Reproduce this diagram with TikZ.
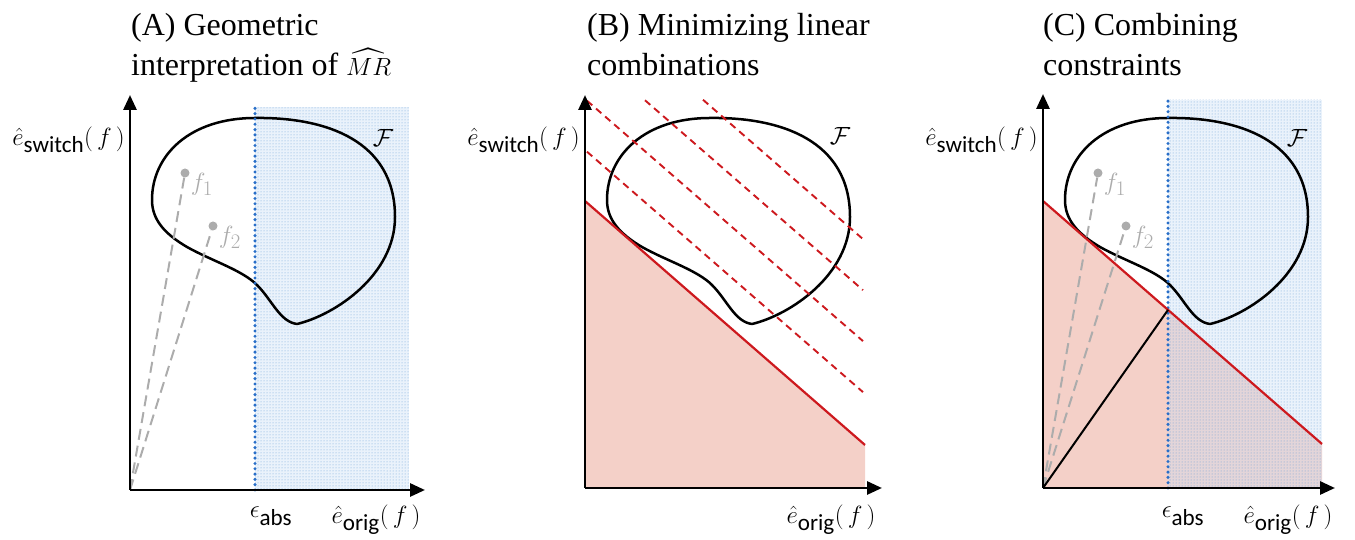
\documentclass[tikz,border=0pt]{standalone}
\usepackage{amsmath,amssymb}
\usepackage{fontspec}
\setmainfont{Liberation Serif}
\setsansfont{Carlito}
\usepackage{tikz}
\usetikzlibrary{arrows.meta, positioning, patterns}
\definecolor{cutblue}{RGB}{40,110,200}
\definecolor{dotblue}{RGB}{110,160,215}
\definecolor{paleblue}{RGB}{200,222,245}
\definecolor{rosefill}{RGB}{244,208,200}
\definecolor{boundred}{RGB}{205,25,30}
\definecolor{pointgray}{RGB}{172,172,172}

\begin{document}
\begin{tikzpicture}[
    x=1pt, y=1pt,
    axis/.style={line width=2.8pt, -{Triangle[length=15pt, width=13pt]}},
    cutline/.style={line width=3.4pt, cutblue, line cap=round, dash pattern=on 0pt off 5.3pt},
    region/.style={fill=paleblue, fill opacity=0.38},
    dotted region/.style={pattern=dots, pattern color=dotblue},
    bound/.style={line width=2.2pt, boundred},
    level/.style={line width=1.9pt, boundred, dash pattern=on 7pt off 5pt},
    ray/.style={line width=2pt, pointgray, dash pattern=on 11pt off 6pt},
    fpoint/.style={circle, fill=pointgray, inner sep=0pt, minimum size=9pt},
    ftext/.style={text=pointgray, inner sep=0pt, font=\fontsize{31}{31}\selectfont},
    lbl/.style={inner sep=0pt, font=\sffamily\fontsize{33}{33}\selectfont},
    setlbl/.style={inner sep=0pt, font=\fontsize{29}{29}\selectfont},
    title/.style={inner sep=0pt, align=left, font=\fontsize{32}{40}\selectfont},
    feasible/.pic={
        \draw[line width=2.5pt, black, line join=round]
            (125,372) .. controls (60,372) and (22,335) .. (22,290)
            .. controls (22,270) and (35,256) .. (57,243)
            .. controls (82,229) and (112,220) .. (127,205)
            .. controls (142,190) and (150,168) .. (167,166)
            .. controls (205,175) and (265,215) .. (265,273)
            .. controls (265,350) and (195,373) .. cycle;
    },
]
    \useasboundingbox (0,0) rectangle (1355,540);

    % Titles
    \node[title, anchor=north west] (titleA) at (131,527) {(A) Geometric\\interpretation of $\widehat{MR}$};
    \node[title, anchor=north west] (titleB) at (587,527) {(B) Minimizing linear\\combinations};
    \node[title, anchor=north west] (titleC) at (1043,527) {(C) Combining\\constraints};

    % (A) feasible set and epsilon cut
    \begin{scope}[shift={(130,50)}]
        \coordinate (oA) at (0,0);
        \coordinate (ytipA) at (0,395);
        \coordinate (xtipA) at (295,0);
        \fill[region] (125,0) rectangle (279,383);
        \fill[dotted region] (125,0) rectangle (279,383);
        \pic at (0,0) {feasible};
        \draw[cutline] (125,0) -- (125,383);
        \node[fpoint] (f1A) at (55,317) {};
        \node[fpoint] (f2A) at (83,264) {};
        \draw[ray] (oA) -- (f1A);
        \draw[ray] (oA) -- (f2A);
        \node[ftext, right=1pt of f1A, yshift=-11pt] (f1labA) {$f_1$};
        \node[ftext, right=1pt of f2A, yshift=-11pt] (f2labA) {$f_2$};
        \draw[axis] (oA) -- (ytipA);
        \draw[axis] (oA) -- (xtipA);
        \node[lbl, anchor=east] (ylabA) at (-5,350) {$\hat{e}_{\text{switch}}(\,f\,)$};
        \node[lbl] (epsA) at (141,-26) {$\epsilon_{\text{abs}}$};
        \node[lbl] (xlabA) at (246,-30) {$\hat{e}_{\text{orig}}(\,f\,)$};
        \node[setlbl] (setA) at (253,352) {$\mathcal{F}$};
    \end{scope}

    % (B) level lines of a linear combination
    \begin{scope}[shift={(585,52)}]
        \coordinate (oB) at (0,0);
        \coordinate (ytipB) at (0,393);
        \coordinate (xtipB) at (297,0);
        \coordinate (lineLB) at (0,287);
        \coordinate (lineRB) at (280,43);
        \fill[rosefill] (oB) -- (lineLB) -- (lineRB) -- (280,0) -- cycle;
        \pic at (0,-2) {feasible};
        \foreach \c/\s in {338/2, 389/2, 440/60, 491/118}
            \draw[level] (\s,{\c-0.871*\s}) -- (278,{\c-0.871*278});
        \draw[bound] (lineLB) -- (lineRB);
        \draw[axis] (oB) -- (ytipB);
        \draw[axis] (oB) -- (xtipB);
        \node[lbl, anchor=east] (ylabB) at (-5,348) {$\hat{e}_{\text{switch}}(\,f\,)$};
        \node[lbl] (xlabB) at (246,-32) {$\hat{e}_{\text{orig}}(\,f\,)$};
        \node[setlbl] (setB) at (255,352) {$\mathcal{F}$};
    \end{scope}

    % (C) both constraints together
    \begin{scope}[shift={(1043,52)}]
        \coordinate (oC) at (0,0);
        \coordinate (ytipC) at (0,394);
        \coordinate (xtipC) at (292,0);
        \coordinate (lineLC) at (0,287);
        \coordinate (lineRC) at (279,44);
        \coordinate (cornerC) at (125,178.1);
        \fill[rosefill] (oC) -- (lineLC) -- (lineRC) -- (279,0) -- cycle;
        \fill[region] (125,0) rectangle (279,388);
        \fill[dotted region] (125,0) rectangle (279,388);
        \pic at (0,-2) {feasible};
        \draw[cutline] (125,0) -- (125,388);
        \node[fpoint] (f1C) at (55,315) {};
        \node[fpoint] (f2C) at (83,262) {};
        \draw[ray] (oC) -- (f1C);
        \draw[ray] (oC) -- (f2C);
        \node[ftext, right=1pt of f1C, yshift=-11pt] (f1labC) {$f_1$};
        \node[ftext, right=1pt of f2C, yshift=-11pt] (f2labC) {$f_2$};
        \draw[bound] (lineLC) -- (lineRC);
        \draw[line width=2pt] (oC) -- (cornerC);
        \draw[axis] (oC) -- (ytipC);
        \draw[axis] (oC) -- (xtipC);
        \node[lbl, anchor=east] (ylabC) at (-5,348) {$\hat{e}_{\text{switch}}(\,f\,)$};
        \node[lbl] (epsC) at (140,-28) {$\epsilon_{\text{abs}}$};
        \node[lbl] (xlabC) at (245,-32) {$\hat{e}_{\text{orig}}(\,f\,)$};
        \node[setlbl] (setC) at (254,350) {$\mathcal{F}$};
    \end{scope}
\end{tikzpicture}
\end{document}
